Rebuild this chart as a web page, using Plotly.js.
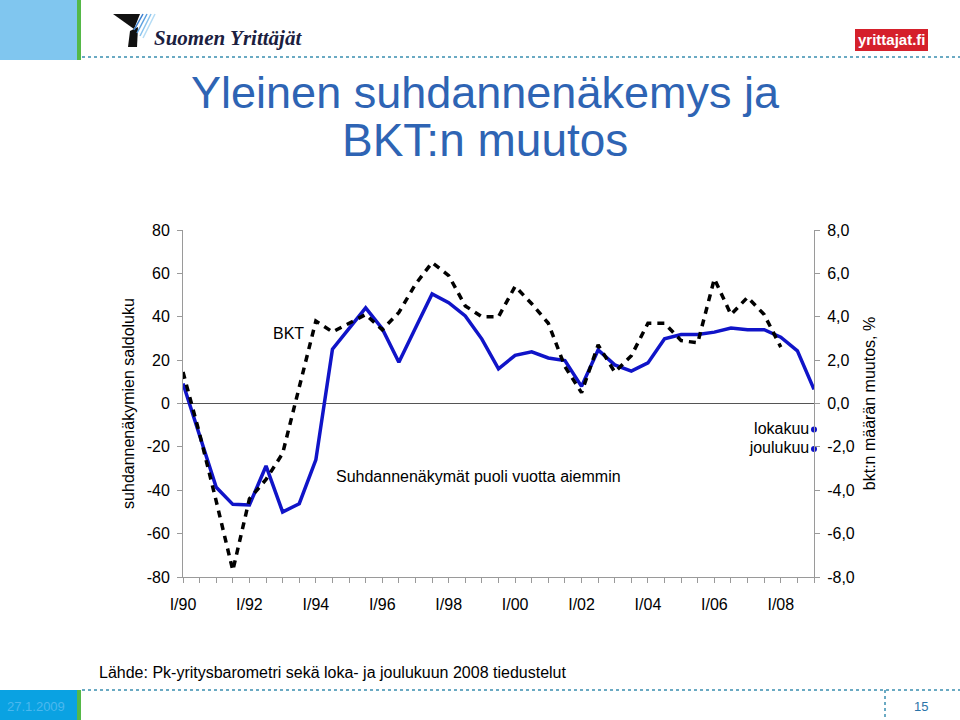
<!DOCTYPE html>
<html><head><meta charset="utf-8">
<script src="https://cdn.plot.ly/plotly-3.0.1.min.js"></script>
<style>html,body{margin:0;padding:0;background:#fff}#chart{width:960px;height:720px}</style>
</head><body><div id="chart"></div>
<script>
// Half-year observation periods (I and III quarter)
const periods = ["I/90","III/90","I/91","III/91","I/92","III/92","I/93","III/93","I/94","III/94",
  "I/95","III/95","I/96","III/96","I/97","III/97","I/98","III/98","I/99","III/99",
  "I/00","III/00","I/01","III/01","I/02","III/02","I/03","III/03","I/04","III/04",
  "I/05","III/05","I/06","III/06","I/07","III/07","I/08","III/08","I/09"];
// Suhdannenäkymät puoli vuotta aiemmin (saldoluku, left axis)
const outlook = [9.2,-15,-38.6,-46.5,-46.8,-28.8,-50,-46.2,-26,25,
  34.5,44.1,34.5,19,34.8,50.5,46.5,40.4,29.7,16,
  22.2,23.8,21,19.8,7.9,24.7,17.8,14.9,18.7,29.8,
  31.8,31.8,32.9,34.8,34,34,30.6,24.3,6.5];
// BKT:n määrän muutos, % (right axis)
const gdp = [1.45,-1.4,-4.5,-7.7,-4.4,-3.5,-2.3,0.8,3.8,3.3,
  3.7,4.1,3.4,4.2,5.5,6.5,5.9,4.5,4.0,4.0,
  5.4,4.6,3.7,1.7,0.5,2.7,1.45,2.2,3.7,3.7,
  2.9,2.8,5.75,4.1,4.9,4.1,2.6];
// Latest survey readings
const surveyLabels = ["lokakuu","joulukuu"];
const surveyValues = [-12,-21];
// Tick labels
const leftTicks = [80,60,40,20,0,-20,-40,-60,-80];
const leftTickText = ["80","60","40","20","0","-20","-40","-60","-80"];
const rightTicks = [8,6,4,2,0,-2,-4,-6,-8];
const rightTickText = ["8,0","6,0","4,0","2,0","0,0","-2,0","-4,0","-6,0","-8,0"];
const xTickText = periods.map((p,i)=> i%4===0 ? p : "");

const FONT = "Liberation Sans, Arial, sans-serif";
const BLUE = "#1014c8";
const AX = "#9a9a9a";

// page pixel -> paper coordinates (plot area 183..814 x 230..577)
const X = p => (p-183)/631;
const Y = p => (577-p)/347;

const traces = [
  {x: periods, y: outlook, type:"scatter", mode:"lines", name:"Suhdannenäkymät",
   line:{color:BLUE, width:3.5}, yaxis:"y", xaxis:"x", hoverinfo:"skip"},
  {x: periods.slice(0, gdp.length), y: gdp, type:"scatter", mode:"lines", name:"BKT",
   line:{color:"#000", width:3.5, dash:"7px,6px"}, yaxis:"y2", xaxis:"x", hoverinfo:"skip"},
  {x: surveyLabels.map(()=>periods[periods.length-1]), y: surveyValues, type:"scatter",
   mode:"markers+text", text: surveyLabels, textposition:"middle left",
   textfont:{family:FONT, size:16, color:"#000"},
   marker:{color:BLUE, size:6}, cliponaxis:false, yaxis:"y", xaxis:"x", hoverinfo:"skip"}
];

const shapes = [
  {type:"rect", xref:"paper", yref:"paper", x0:X(0), x1:X(77), y0:Y(60), y1:Y(0), fillcolor:"#80c6ef", line:{width:0}, layer:"below"},
  {type:"rect", xref:"paper", yref:"paper", x0:X(77), x1:X(81), y0:Y(60), y1:Y(0), fillcolor:"#55b848", line:{width:0}, layer:"below"},
  {type:"rect", xref:"paper", yref:"paper", x0:X(0), x1:X(77), y0:Y(720), y1:Y(690), fillcolor:"#0aa2e2", line:{width:0}, layer:"below"},
  {type:"rect", xref:"paper", yref:"paper", x0:X(77), x1:X(81), y0:Y(720), y1:Y(690), fillcolor:"#55b848", line:{width:0}, layer:"below"},
  {type:"line", xref:"paper", yref:"paper", x0:X(82), x1:X(960), y0:Y(57), y1:Y(57), line:{color:"#3a8fb0", width:1.5, dash:"dot"}},
  {type:"line", xref:"paper", yref:"paper", x0:X(82), x1:X(960), y0:Y(690), y1:Y(690), line:{color:"#3a8fb0", width:1.5, dash:"dot"}},
  {type:"line", xref:"paper", yref:"paper", x0:X(885), x1:X(885), y0:Y(690), y1:Y(720), line:{color:"#3a8fb0", width:1.5, dash:"dot"}},
  {type:"rect", xref:"paper", yref:"paper", x0:X(855), x1:X(928), y0:Y(51), y1:Y(29), fillcolor:"#d5202b", line:{width:0}},
  // Suomen Yrittäjät logo mark
  {type:"path", xref:"paper", yref:"paper", path:`M${X(113)},${Y(14)} L${X(140)},${Y(14)} L${X(134)},${Y(29)} Z`, fillcolor:"#111", line:{width:0}},
  {type:"path", xref:"paper", yref:"paper", path:`M${X(130)},${Y(31)} L${X(138)},${Y(27)} L${X(137)},${Y(47)} L${X(128)},${Y(47)} Z`, fillcolor:"#111", line:{width:0}},
  {type:"line", xref:"paper", yref:"paper", x0:X(143), x1:X(134), y0:Y(14), y1:Y(30), line:{color:"#3a7fd0", width:1.5}},
  {type:"line", xref:"paper", yref:"paper", x0:X(147), x1:X(137), y0:Y(14), y1:Y(33), line:{color:"#5aa0e0", width:1.5}},
  {type:"line", xref:"paper", yref:"paper", x0:X(151), x1:X(140), y0:Y(14), y1:Y(36), line:{color:"#8cc4ee", width:1.5}},
  {type:"line", xref:"paper", yref:"paper", x0:X(155), x1:X(143), y0:Y(14), y1:Y(38), line:{color:"#b5dcf5", width:1.5}}
];

const annotations = [
  {xref:"paper", yref:"paper", x:X(485), y:Y(140), text:"BKT:n muutos", showarrow:false,
   font:{family:FONT, size:46, color:"#2e64b4"}, xanchor:"center", yanchor:"middle"},
  {xref:"paper", yref:"paper", x:X(288), y:Y(333), text:"BKT", showarrow:false,
   font:{family:FONT, size:16, color:"#000"}, xanchor:"center", yanchor:"middle"},
  {xref:"paper", yref:"paper", x:X(478), y:Y(476), text:"Suhdannenäkymät puoli vuotta aiemmin", showarrow:false,
   font:{family:FONT, size:16, color:"#000"}, xanchor:"center", yanchor:"middle"},
  {xref:"paper", yref:"paper", x:X(97), y:Y(672), text:"Lähde: Pk-yritysbarometri sekä loka- ja joulukuun 2008 tiedustelut", showarrow:false,
   font:{family:FONT, size:16, color:"#000"}, xanchor:"left", yanchor:"middle"},
  {xref:"paper", yref:"paper", x:X(36), y:Y(706), text:"27.1.2009", showarrow:false,
   font:{family:FONT, size:13, color:"#4cb8ee"}, xanchor:"center", yanchor:"middle"},
  {xref:"paper", yref:"paper", x:X(921), y:Y(706), text:"15", showarrow:false,
   font:{family:FONT, size:13, color:"#2a74a8"}, xanchor:"center", yanchor:"middle"},
  {xref:"paper", yref:"paper", x:X(152), y:Y(38), text:"<b><i>Suomen Yrittäjät</i></b>", showarrow:false,
   font:{family:"Liberation Serif, Times New Roman, serif", size:21, color:"#1b2040"}, xanchor:"left", yanchor:"middle"},
  {xref:"paper", yref:"paper", x:X(891.5), y:Y(40), text:"<b>yrittajat.fi</b>", showarrow:false,
   font:{family:"Liberation Sans Narrow, Arial Narrow, " + FONT, size:15, color:"#fff"}, xanchor:"center", yanchor:"middle"}
];

const layout = {
  width:960, height:720,
  paper_bgcolor:"#fff", plot_bgcolor:"rgba(0,0,0,0)",
  margin:{l:183, r:146, t:230, b:143},
  showlegend:false,
  font:{family:FONT, size:16, color:"#000"},
  title:{text:"Yleinen suhdannenäkemys ja", font:{family:FONT, size:45, color:"#2e64b4"},
    xref:"container", yref:"container", x:485/960, xanchor:"center", y:1-92/720, yanchor:"middle"},
  xaxis:{type:"category", range:[0, periods.length-1], tickmode:"array", tickvals:periods, ticktext:xTickText,
    ticks:"outside", ticklen:5, tickcolor:AX, tickwidth:1, showline:true, linecolor:AX, linewidth:1,
    showgrid:false, zeroline:false, tickfont:{family:FONT, size:16, color:"#000"}, ticklabelstandoff:8,
    automargin:false, fixedrange:true},
  xaxis2:{overlaying:"x", anchor:"y", side:"bottom", range:[0, periods.length-1], tickmode:"linear", tick0:0, dtick:1,
    ticks:"inside", ticklen:5, tickcolor:AX, showticklabels:false, showgrid:false, zeroline:false, showline:false, fixedrange:true},
  yaxis:{range:[-80,80], tickmode:"array", tickvals:leftTicks, ticktext:leftTickText,
    ticks:"outside", ticklen:5, tickcolor:AX, showline:true, linecolor:AX, linewidth:1,
    showgrid:false, zeroline:true, zerolinecolor:"#555", zerolinewidth:1.5,
    tickfont:{family:FONT, size:16, color:"#000"}, ticklabelstandoff:4,
    title:{text:"suhdannenäkymien saldoluku", font:{family:FONT, size:16, color:"#000"}, standoff:8},
    automargin:false, fixedrange:true},
  yaxis2:{overlaying:"y", side:"right", anchor:"x", range:[-8,8], tickmode:"array", tickvals:rightTicks, ticktext:rightTickText,
    ticks:"outside", ticklen:5, tickcolor:AX, showline:true, linecolor:AX, linewidth:1,
    showgrid:false, zeroline:false, tickfont:{family:FONT, size:16, color:"#000"}, ticklabelstandoff:4,
    title:{text:"bkt:n määrän muutos, %", font:{family:FONT, size:16, color:"#000"}, standoff:9},
    automargin:false, fixedrange:true},
  yaxis3:{overlaying:"y", side:"left", anchor:"x", range:[-80,80], tickmode:"array", tickvals:leftTicks,
    ticks:"inside", ticklen:5, tickcolor:AX, showticklabels:false, showgrid:false, zeroline:false, showline:false, fixedrange:true},
  yaxis4:{overlaying:"y", side:"right", anchor:"x", range:[-8,8], tickmode:"array", tickvals:rightTicks,
    ticks:"inside", ticklen:5, tickcolor:AX, showticklabels:false, showgrid:false, zeroline:false, showline:false, fixedrange:true},
  shapes: shapes,
  annotations: annotations
};

Plotly.newPlot("chart", traces, layout, {staticPlot:true, displayModeBar:false});
</script>
</body></html>
